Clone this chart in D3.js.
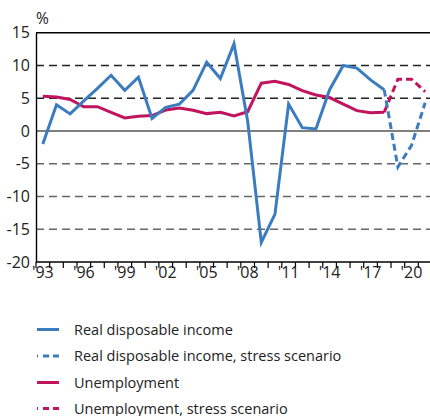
<!DOCTYPE html>
<html><head><meta charset="utf-8">
<script src="https://cdn.jsdelivr.net/npm/d3@7"></script>
<style>
body{margin:0;background:#fff;}
svg{display:block;font-family:"Open Sans","Noto Sans",sans-serif;}
</style></head>
<body>
<script>
const years = d3.range(1993, 2019);
const income = [-2.0, 4.0, 2.6, 4.6, 6.5, 8.5, 6.2, 8.2, 1.9, 3.6, 4.1, 6.2, 10.5, 8.0, 13.3, 1.5, -17.0, -12.7, 4.1, 0.5, 0.3, 6.3, 10.0, 9.6, 7.8, 6.3];
const unemployment = [5.3, 5.2, 4.8, 3.7, 3.7, 2.85, 2.0, 2.25, 2.35, 3.2, 3.5, 3.15, 2.65, 2.85, 2.3, 2.95, 7.3, 7.6, 7.1, 6.15, 5.5, 5.1, 4.1, 3.1, 2.8, 2.85];
const stressYears = [2018, 2019, 2020, 2021];
const incomeStress = [6.3, -5.5, -2.2, 4.3];
const unemploymentStress = [2.85, 7.9, 7.9, 6.0];
const yTicks = [-20, -15, -10, -5, 0, 5, 10, 15];
const xLabelYears = [1993, 1996, 1999, 2002, 2005, 2008, 2011, 2014, 2017, 2020];
const legendLabels = ["Real disposable income", "Real disposable income, stress scenario", "Unemployment", "Unemployment, stress scenario"];

const W = 430, H = 416;
const blue = "#3b7cc0", red = "#c2135e";
const svg = d3.select("body").append("svg").attr("width", W).attr("height", H);

const x = d3.scaleLinear().domain([1993, 2022]).range([36, 432]);
const y = d3.scaleLinear().domain([-20, 15]).range([262, 32.7]);
const xc = yr => x(yr + 0.5);

// gridlines
const gridColor = v => v === 15 ? "#000" : v === 0 ? "#555" : v > 0 ? "#222" : "#666";
svg.append("g").selectAll("line").data(yTicks.filter(v => v !== -20)).join("line")
  .attr("x1", 36).attr("x2", W)
  .attr("y1", d => y(d)).attr("y2", d => y(d))
  .attr("stroke", d => gridColor(d))
  .attr("stroke-width", d => (d === 0 || d === 15) ? 1.6 : 1.4)
  .attr("stroke-dasharray", d => (d === 0 || d === 15) ? null : "8,5");

// y axis
const yAxis = svg.append("g").attr("transform", "translate(36,0)")
  .call(d3.axisLeft(y).tickValues(yTicks).tickSize(0).tickPadding(6).tickFormat(d => d));
yAxis.select(".domain").attr("stroke", "#000").attr("stroke-width", 1.4);
yAxis.selectAll("text").attr("font-size", 16).attr("fill", "#222").attr("font-family", "Open Sans");

svg.append("text").attr("x", 36).attr("y", 24).attr("font-size", 15.5).attr("fill", "#222").text("%");

// x axis
svg.append("line").attr("x1", 36).attr("x2", W).attr("y1", y(-20)).attr("y2", y(-20))
  .attr("stroke", "#000").attr("stroke-width", 1.4);
svg.append("g").selectAll("line").data(d3.range(1993, 2022)).join("line")
  .attr("x1", d => x(d)).attr("x2", d => x(d))
  .attr("y1", y(-20)).attr("y2", y(-20) + 6)
  .attr("stroke", "#000").attr("stroke-width", 1.2);
svg.append("g").selectAll("text").data(xLabelYears).join("text")
  .attr("x", d => xc(d)).attr("y", 277.5).attr("text-anchor", "middle")
  .attr("font-size", 16).attr("fill", "#222")
  .text(d => "'" + String(d).slice(2));

// lines
const line = d3.line().x(d => xc(d[0])).y(d => y(d[1]));
const path = (yrs, vals, color, dash) => svg.append("path")
  .datum(yrs.map((yr, i) => [yr, vals[i]]))
  .attr("d", line).attr("fill", "none").attr("stroke", color)
  .attr("stroke-width", 3).attr("stroke-dasharray", dash);

path(years, unemployment, red, null);
path(stressYears, unemploymentStress, red, "7,4");
path(years, income, blue, null);
path(stressYears, incomeStress, blue, "7,4");

// legend
const lg = svg.append("g");
const lgY = [329.5, 356, 382.5, 408.5];
const lgStyle = [[blue, null], [blue, "1,5,6,4,6"], [red, null], [red, "1,5,6,4,6"]];
legendLabels.forEach((t, i) => {
  lg.append("line").attr("x1", 37).attr("x2", 59).attr("y1", lgY[i]).attr("y2", lgY[i])
    .attr("stroke", lgStyle[i][0]).attr("stroke-width", 3).attr("stroke-dasharray", lgStyle[i][1]);
  lg.append("text").attr("x", 74).attr("y", lgY[i] + 5).attr("font-size", 14.5).attr("fill", "#222").text(t);
});
</script>
</body></html>
